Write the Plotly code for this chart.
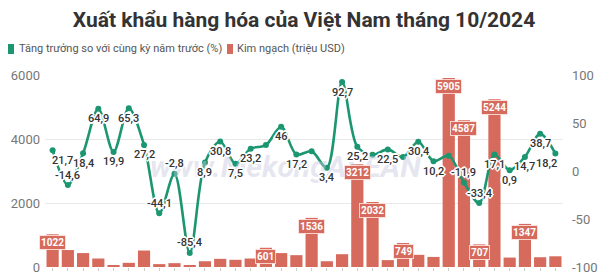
import plotly.graph_objects as go

# ---- data ----
categories = [f"Mặt hàng {i+1}" for i in range(34)]
kim_ngach = [1022, 530, 435, 265, 40, 130, 515, 90, 120, 50, 180, 255, 225, 265,
             601, 435, 370, 1536, 180, 400, 3212, 2032, 215, 749, 380, 315,
             5905, 4587, 707, 5244, 295, 1347, 305, 335]
tang_truong = [21.7, -14.6, 18.4, 64.9, 19.9, 65.3, 27.2, -44.1, -2.8, -85.4, 8.9,
               30.8, 7.5, 23.2, 27.0, 46, 17.2, 20.5, 3.4, 92.7, 25.2, 17.0, 22.5,
               14.6, 30.4, 10.2, 16.0, -11.9, -33.4, 17.1, 0.9, 14.7, 38.7, 18.2]
growth_unlabeled = {14, 17, 21, 23, 26}
bar_labeled = {0, 14, 17, 20, 21, 23, 26, 27, 28, 29, 31}
left_ticks = [0, 2000, 4000, 6000]
right_ticks = [-100, -50, 0, 50, 100]

title = "Xuất khẩu hàng hóa của Việt Nam tháng 10/2024"
legend_green = "Tăng trưởng so với cùng kỳ năm trước (%)"
legend_red = "Kim ngạch (triệu USD)"

GREEN = "#1b9670"
RED = "#d66a5c"
FONT = "Roboto"
HALO = ", ".join(f"{dx}px {dy}px 0 #ffffff" for dx, dy in
                 [(-1, -1), (1, -1), (-1, 1), (1, 1), (0, -2), (0, 2), (-2, 0), (2, 0)])

W, H = 600, 275
L, R, T, B = 45, 37, 75, 8
PW, PH = W - L - R, H - T - B


def px(x):
    return (x - L) / PW


def py(y):
    return (H - B - y) / PH


def fmt(v):
    return f"{v:g}".replace(".", ",")


fig = go.Figure()
fig.add_trace(go.Bar(
    x=categories, y=kim_ngach, marker=dict(color=RED, line=dict(width=0)),
    name=legend_red, yaxis="y", hoverinfo="skip"))
fig.add_trace(go.Scatter(
    x=categories, y=tang_truong, yaxis="y2", mode="lines+markers",
    line=dict(color=GREEN, width=2.6, shape="spline", smoothing=0.9),
    marker=dict(color=GREEN, size=6),
    name=legend_green, cliponaxis=False, hoverinfo="skip"))

annotations = []
# watermark
annotations.append(dict(
    xref="paper", yref="paper", x=px(285), y=py(166), text="<i>www.MekongASEAN</i>",
    showarrow=False, font=dict(family=FONT, size=30, color="rgba(200,200,222,0.45)", weight=700),
    xanchor="center", yanchor="middle"))
# bar value labels
for i in sorted(bar_labeled):
    annotations.append(dict(
        x=categories[i], y=kim_ngach[i], xref="x", yref="y", text=f"<b>{kim_ngach[i]}</b>",
        showarrow=False, yanchor="top", yshift=-1, bgcolor=RED, borderpad=1,
        bordercolor="rgba(255,235,230,0.8)", borderwidth=1,
        font=dict(family=FONT, size=10, color="white")))
# growth labels with white halo
n = len(tang_truong)
for i, v in enumerate(tang_truong):
    if i in growth_unlabeled:
        continue
    xs = 10 if i == 0 else (-9 if i == n - 1 else 0)
    ys = 10 if v < 0 else -10
    annotations.append(dict(
        x=categories[i], y=v, xref="x", yref="y2", text=fmt(v), showarrow=False,
        xanchor="center", yanchor="middle", xshift=xs, yshift=ys,
        font=dict(family=FONT, size=11, color="#333333", weight=500, shadow=HALO)))
# legend
annotations.append(dict(xref="paper", yref="paper", x=px(17), y=py(49), text=legend_green,
                        showarrow=False, xanchor="left", yanchor="middle",
                        font=dict(family=FONT, size=11, color="#555")))
annotations.append(dict(xref="paper", yref="paper", x=px(235), y=py(49), text=legend_red,
                        showarrow=False, xanchor="left", yanchor="middle",
                        font=dict(family=FONT, size=11, color="#555")))

shapes = [
    dict(type="rect", xref="paper", yref="paper", x0=px(8), x1=px(14), y0=py(54), y1=py(44),
         fillcolor=GREEN, line=dict(width=0)),
    dict(type="rect", xref="paper", yref="paper", x0=px(227), x1=px(233), y0=py(54), y1=py(44),
         fillcolor=RED, line=dict(width=0)),
]

fig.update_layout(
    width=W, height=H, margin=dict(l=L, r=R, t=T, b=B, autoexpand=False),
    paper_bgcolor="white", plot_bgcolor="white", showlegend=False,
    title=dict(text=f"<b>{title}</b>", x=0.5, xanchor="center", xref="paper",
               y=1 - 20 / H, yanchor="middle",
               font=dict(family=FONT, size=21, color="#333333")),
    bargap=0.2,
    xaxis=dict(type="category", range=[-0.5, len(categories) - 0.5],
               showticklabels=False, ticks="outside", ticklen=3,
               tickcolor="#cccccc", showgrid=False, zeroline=False, showline=False,
               automargin=False),
    yaxis=dict(range=[0, 6000], tickvals=left_ticks, ticktext=[str(v) for v in left_ticks],
               showgrid=True, gridcolor="#e8e8e8", zeroline=False, showline=False,
               tickfont=dict(family=FONT, size=13, color="#777"), ticks="", ticklabelstandoff=4,
               automargin=False),
    yaxis2=dict(range=[-100, 100], overlaying="y", side="right", tickvals=right_ticks,
                ticktext=[str(v) for v in right_ticks], showgrid=False, zeroline=False,
                showline=False, tickfont=dict(family=FONT, size=13, color="#777"), ticks="",
                ticklabelstandoff=8, automargin=False),
    annotations=annotations, shapes=shapes,
)

fig.write_html("out.html")
